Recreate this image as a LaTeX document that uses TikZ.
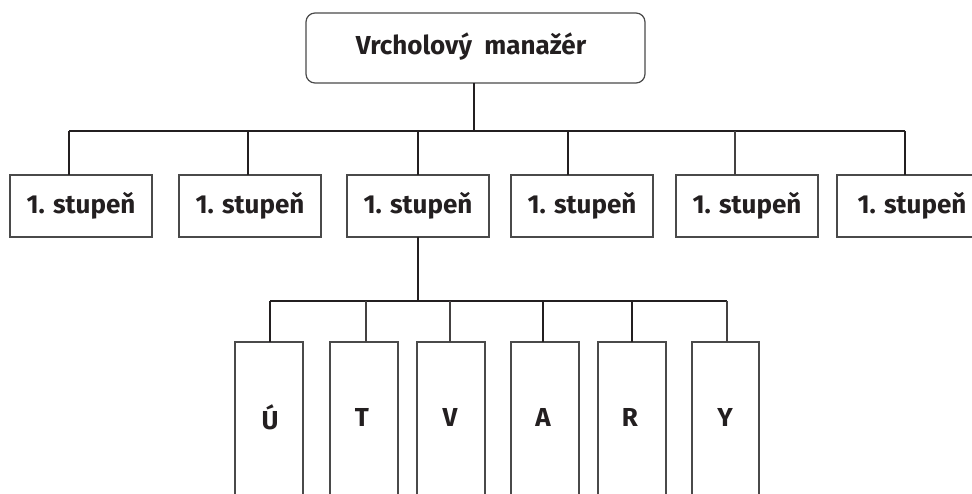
\documentclass[tikz,border=0pt]{standalone}
\usepackage{fontspec}
\setmainfont{Fira Sans}
\definecolor{ink}{HTML}{231F20}
\definecolor{edge}{HTML}{4A4A4A}
\tikzset{
  boxline/.style={draw=edge, line width=1.2pt},
  link/.style={draw=ink, line width=1.9pt},
  thinlink/.style={draw=ink!85, line width=1.2pt},
  label/.style={font=\bfseries\fontsize{26}{30}\selectfont, text=ink, inner sep=0pt},
}
\begin{document}
\begin{tikzpicture}[x=1pt, y=-1pt]
\useasboundingbox (0,0) rectangle (972,494);
\clip (0,0) rectangle (972,494);

% top manager
\draw[boxline, rounded corners=9pt] (306,13) rectangle (645,83);
\node[label] (top) at (471,47) {Vrcholový\ \ manažér};
\coordinate (topS) at (474,83);

% first-level boxes
\foreach \i/\l/\r/\c in {1/10/152/81, 2/179/321/250, 3/347/489/418, 4/511/653/582, 5/676/818/747, 6/837/1000/912}{
  \draw[boxline] (\l,175) rectangle (\r,237);
  \node[label] (s\i) at (\c,206) {1. stupeň};
}

% junctions on the first bar
\coordinate (j1) at (69,131);
\coordinate (j2) at (248,131);
\coordinate (j3) at (418,131);
\coordinate (j4) at (568,131);
\coordinate (j5) at (735,131);
\coordinate (j6) at (905,131);
\coordinate (jt) at (474,131);

\draw[link] (topS) -- (jt);
\draw[link] (j1) -- (j6);
\foreach \i in {1,2,3,4,6}{
  \draw[link] (j\i) -- (j\i |- 0,175);
}
\draw[thinlink] (j5) -- (j5 |- 0,175);

% second-level boxes
\foreach \i/\l/\r/\c/\t in {1/235/303/270/Ú, 2/330/398/362/T, 3/417/485/450/V, 4/511/579/543/A, 5/598/666/630/R, 6/692/759/725/Y}{
  \draw[boxline] (\l,520) -- (\l,342) -- (\r,342) -- (\r,520);
  \node[label] (u\i) at (\c,417) {\t};
}

% junctions on the second bar
\coordinate (k0) at (418,237);
\coordinate (kc) at (418,301);
\coordinate (k1) at (270,301);
\coordinate (k2) at (366,301);
\coordinate (k3) at (450,301);
\coordinate (k4) at (543,301);
\coordinate (k5) at (632,301);
\coordinate (k6) at (727,301);

\draw[link] (k0) -- (kc);
\draw[link] (k1) -- (k6);
\foreach \i in {1,4,5}{
  \draw[link] (k\i) -- (k\i |- 0,342);
}
\foreach \i in {2,3,6}{
  \draw[thinlink] (k\i) -- (k\i |- 0,342);
}
\end{tikzpicture}
\end{document}
